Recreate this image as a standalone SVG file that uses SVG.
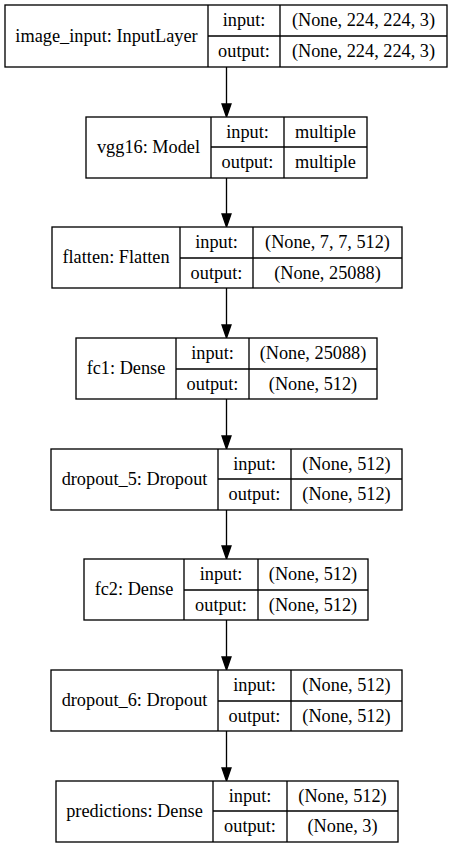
<svg xmlns="http://www.w3.org/2000/svg" width="453" height="848" viewBox="0 0 453 848">
<style>
.box{fill:#fff;stroke:#000;stroke-width:1.33}
.ln{stroke:#000;stroke-width:1.33;fill:none}
text{font-family:"Liberation Serif","Times New Roman",serif;font-size:18.3px;fill:#000;text-anchor:middle}
.edge{stroke:#000;stroke-width:1.33;fill:none}
.head{fill:#000;stroke:#000;stroke-width:1.33}
</style>
<rect width="453" height="848" fill="#fff"/>
<g id="connectors">
<line class="edge" x1="226.5" y1="67" x2="226.5" y2="104"/><polygon class="head" points="222,104 231,104 226.5,117"/>
<line class="edge" x1="226.5" y1="178" x2="226.5" y2="214"/><polygon class="head" points="222,214 231,214 226.5,227"/>
<line class="edge" x1="226.5" y1="288" x2="226.5" y2="325"/><polygon class="head" points="222,325 231,325 226.5,338"/>
<line class="edge" x1="226.5" y1="399" x2="226.5" y2="436"/><polygon class="head" points="222,436 231,436 226.5,449"/>
<line class="edge" x1="226.5" y1="510" x2="226.5" y2="546"/><polygon class="head" points="222,546 231,546 226.5,559"/>
<line class="edge" x1="226.5" y1="620" x2="226.5" y2="657"/><polygon class="head" points="222,657 231,657 226.5,670"/>
<line class="edge" x1="226.5" y1="731" x2="226.5" y2="768"/><polygon class="head" points="222,768 231,768 226.5,781"/>
</g>
<g id="image_input">
<rect class="box" x="5" y="5" width="442" height="62"/>
<path class="ln" d="M208 5V67M280 5V67M208 36H447"/>
<text x="106.5" y="41.7">image_input: InputLayer</text>
<text x="244" y="26.2">input:</text><text x="363.5" y="26.2">(None, 224, 224, 3)</text>
<text x="244" y="57.2">output:</text><text x="363.5" y="57.2">(None, 224, 224, 3)</text>
</g>
<g id="vgg16">
<rect class="box" x="86" y="117" width="281" height="61"/>
<path class="ln" d="M211 117V178M284 117V178M211 147H367"/>
<text x="148.5" y="153.2">vgg16: Model</text>
<text x="247.5" y="137.7">input:</text><text x="325.5" y="137.7">multiple</text>
<text x="247.5" y="168.2">output:</text><text x="325.5" y="168.2">multiple</text>
</g>
<g id="flatten">
<rect class="box" x="52" y="227" width="350" height="61"/>
<path class="ln" d="M180 227V288M253 227V288M180 258H402"/>
<text x="116" y="263.2">flatten: Flatten</text>
<text x="216.5" y="248.2">input:</text><text x="327.5" y="248.2">(None, 7, 7, 512)</text>
<text x="216.5" y="278.7">output:</text><text x="327.5" y="278.7">(None, 25088)</text>
</g>
<g id="fc1">
<rect class="box" x="76" y="338" width="301" height="61"/>
<path class="ln" d="M176 338V399M249 338V399M176 369H377"/>
<text x="126" y="374.2">fc1: Dense</text>
<text x="212.5" y="359.2">input:</text><text x="313" y="359.2">(None, 25088)</text>
<text x="212.5" y="389.7">output:</text><text x="313" y="389.7">(None, 512)</text>
</g>
<g id="dropout_5">
<rect class="box" x="51" y="449" width="351" height="61"/>
<path class="ln" d="M218 449V510M291 449V510M218 479H402"/>
<text x="134.5" y="485.2">dropout_5: Dropout</text>
<text x="254.5" y="469.7">input:</text><text x="346.5" y="469.7">(None, 512)</text>
<text x="254.5" y="500.2">output:</text><text x="346.5" y="500.2">(None, 512)</text>
</g>
<g id="fc2">
<rect class="box" x="84" y="559" width="284" height="61"/>
<path class="ln" d="M184 559V620M258 559V620M184 590H368"/>
<text x="134" y="595.2">fc2: Dense</text>
<text x="221" y="580.2">input:</text><text x="313" y="580.2">(None, 512)</text>
<text x="221" y="610.7">output:</text><text x="313" y="610.7">(None, 512)</text>
</g>
<g id="dropout_6">
<rect class="box" x="51" y="670" width="351" height="61"/>
<path class="ln" d="M218 670V731M291 670V731M218 701H402"/>
<text x="134.5" y="706.2">dropout_6: Dropout</text>
<text x="254.5" y="691.2">input:</text><text x="346.5" y="691.2">(None, 512)</text>
<text x="254.5" y="721.7">output:</text><text x="346.5" y="721.7">(None, 512)</text>
</g>
<g id="predictions">
<rect class="box" x="56" y="781" width="342" height="61"/>
<path class="ln" d="M213 781V842M287 781V842M213 811H398"/>
<text x="134.5" y="817.2">predictions: Dense</text>
<text x="250" y="801.7">input:</text><text x="342.5" y="801.7">(None, 512)</text>
<text x="250" y="832.2">output:</text><text x="342.5" y="832.2">(None, 3)</text>
</g>
</svg>
